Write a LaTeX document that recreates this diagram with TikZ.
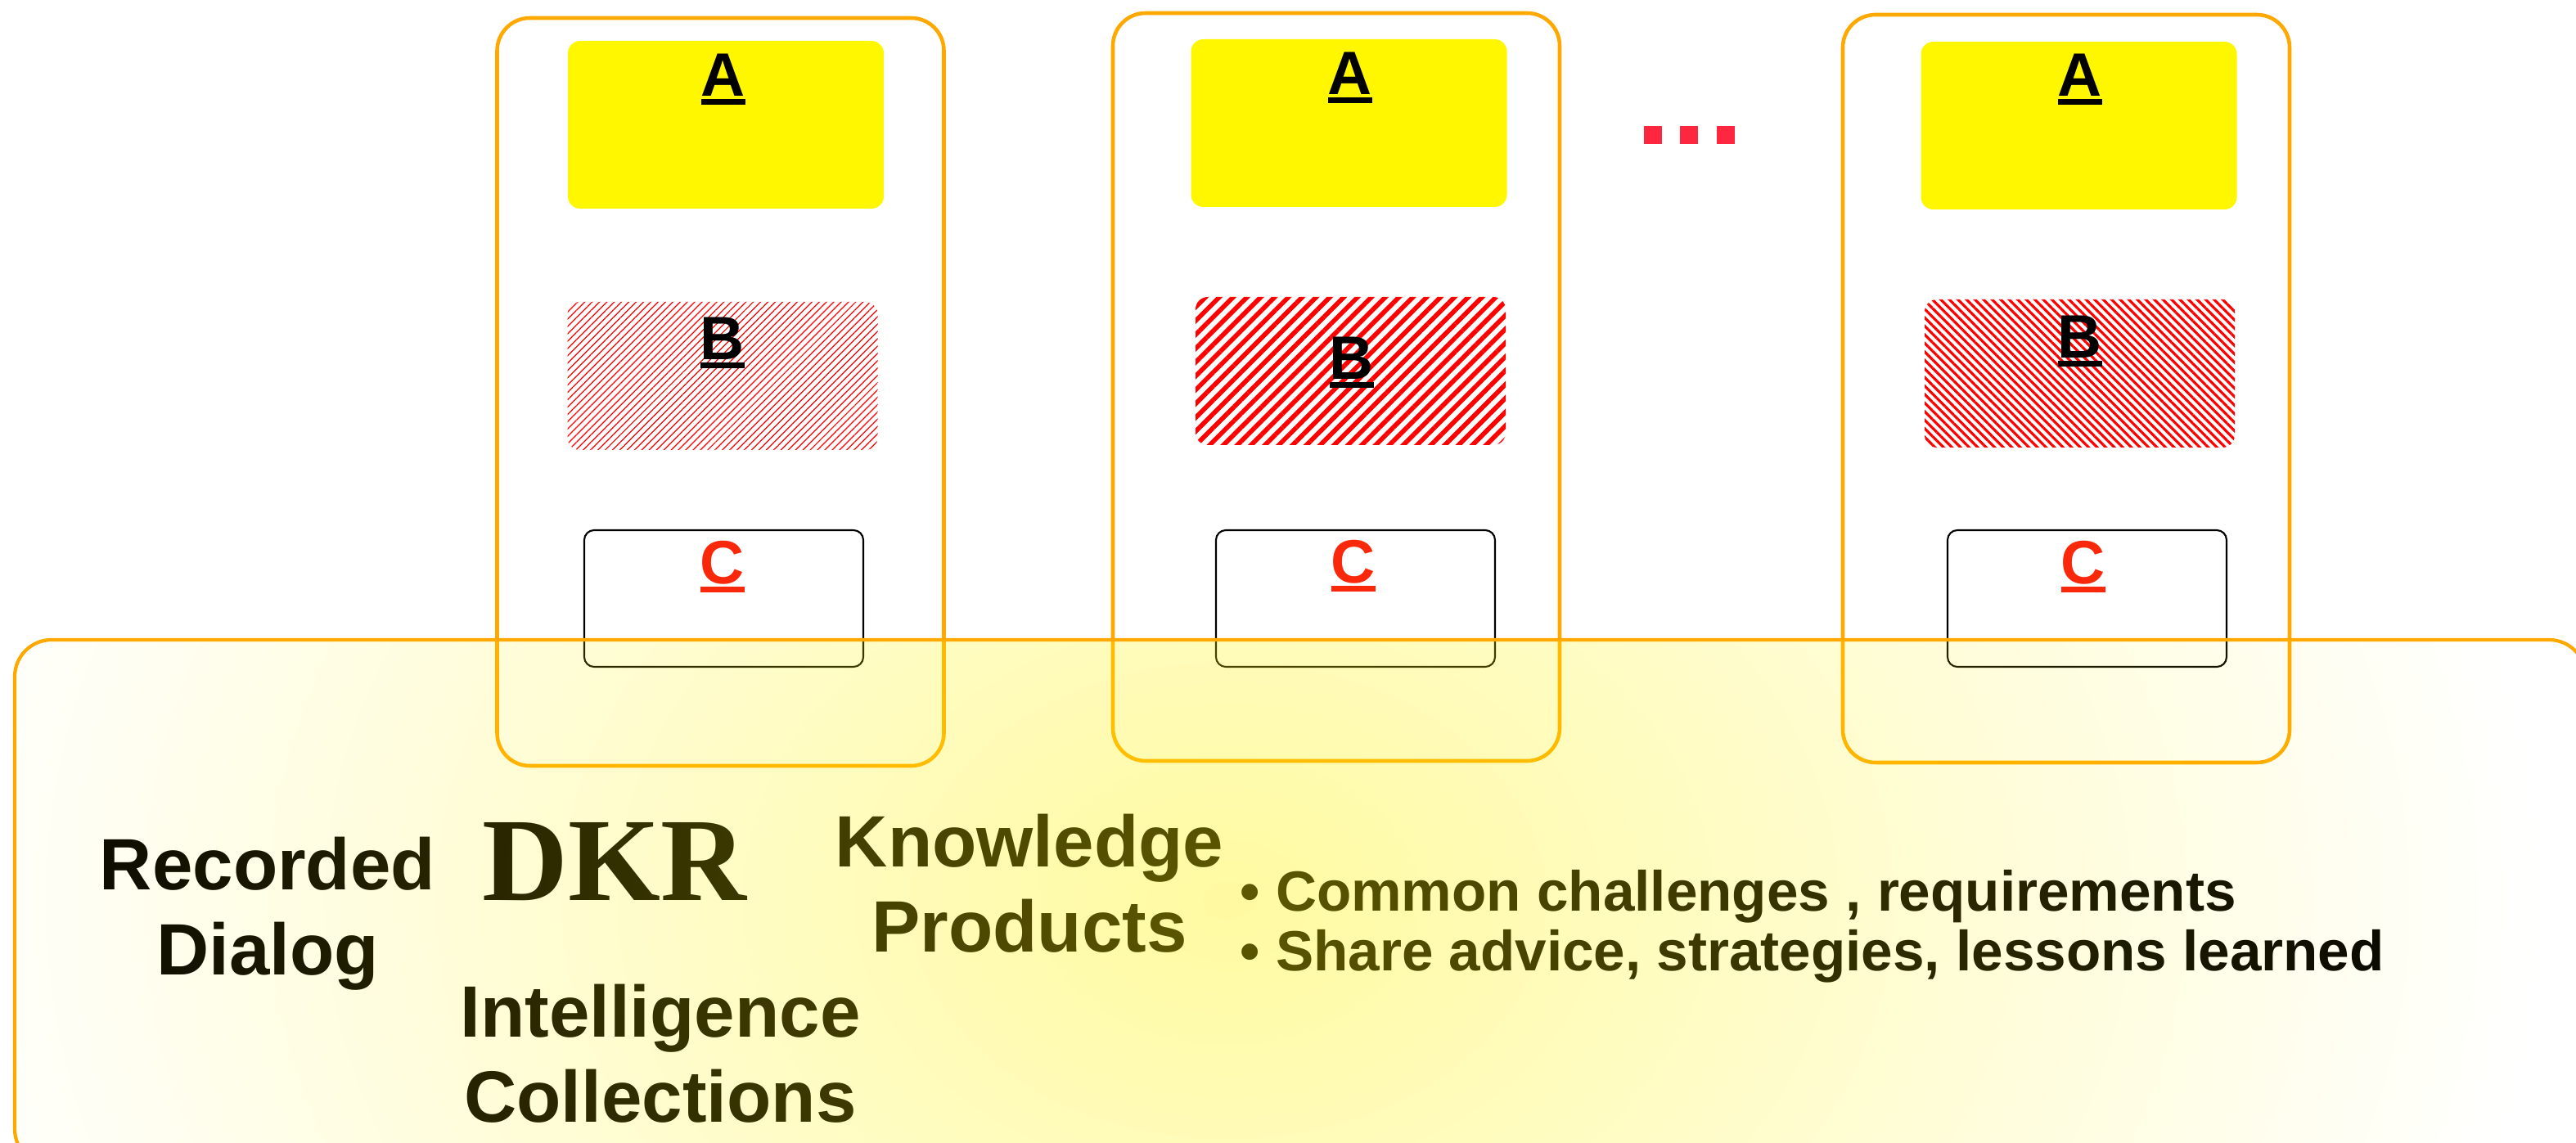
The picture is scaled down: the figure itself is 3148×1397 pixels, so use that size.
\documentclass[tikz,border=0pt]{standalone}
\usepackage{fontspec}
\setmainfont{Liberation Sans}
\newfontfamily\dkrfont{Liberation Serif}
\usetikzlibrary{patterns.meta,fadings}

\definecolor{boxorange}{RGB}{255,168,0}
\definecolor{ayellow}{RGB}{255,247,0}
\definecolor{dotred}{RGB}{255,38,64}
\definecolor{clabel}{RGB}{250,40,10}

% underline with a heavier rule
\newcommand{\ulbox}[1]{\setbox0\hbox{#1}\rlap{\rule[-0.13em]{\wd0}{0.09em}}\box0}

\tikzfading[name=dkrglow, inner color=transparent!63, outer color=transparent!100]

\tikzset{
  colbox/.style={draw=boxorange, line width=1.3pt, rounded corners=4mm,
    minimum width=54.6mm, minimum height=91.4mm, inner sep=0pt},
  abox/.style={fill=ayellow, rounded corners=1.5mm,
    minimum width=38.6mm, minimum height=20.5mm, inner sep=0pt},
  hatchbox/.style={rounded corners=1.5mm, pattern color=red,
    minimum width=37.9mm, minimum height=18.1mm, inner sep=0pt},
  cbox/.style={draw=black, line width=0.6pt, rounded corners=1.2mm,
    minimum width=34.1mm, minimum height=16.7mm, inner sep=0pt},
  lbl/.style={font=\fontsize{21.3}{24}\selectfont\bfseries, inner sep=0pt, anchor=base},
  bigtext/.style={font=\fontsize{25.3}{29.6}\selectfont\bfseries, align=center, inner sep=0pt},
  listtext/.style={font=\fontsize{19.7}{21}\selectfont\bfseries, align=left, inner sep=0pt}
}

\begin{document}
\begin{tikzpicture}[x=0.1mm, y=-0.1mm]
  \useasboundingbox (0,0) rectangle (3148,1397);

  % first column
  \node[colbox] (col1) at (880.5,479) {};
  \node[abox] (a1) at (887,152.5) {};
  \node[hatchbox, pattern={Lines[angle=45,distance=1.8pt,line width=0.35pt]}] (b1) at (883,459.5) {};
  \node[cbox] (c1) at (884.5,731.5) {};
  \node[lbl] (a1lbl) at (884,118) {\ulbox{A}};
  \node[lbl] (b1lbl) at (883,440) {\ulbox{B}};
  \node[lbl, text=clabel] (c1lbl) at (883,714) {\ulbox{C}};

  % second column
  \node[colbox] (col2) at (1633,473) {};
  \node[abox] (a2) at (1648.5,150.5) {};
  \node[hatchbox, pattern={Lines[angle=45,distance=3.4pt,line width=1.6pt]}] (b2) at (1650.5,453.5) {};
  \node[cbox] (c2) at (1656.5,731.5) {};
  \node[lbl] (a2lbl) at (1650,116) {\ulbox{A}};
  \node[lbl] (b2lbl) at (1652,464) {\ulbox{B}};
  \node[lbl, text=clabel] (c2lbl) at (1654,713) {\ulbox{C}};

  % last column
  \node[colbox] (col3) at (2525,475) {};
  \node[abox] (a3) at (2540.5,153.5) {};
  \node[hatchbox, pattern={Lines[angle=-45,distance=2.1pt,line width=0.9pt]}] (b3) at (2541.5,456.5) {};
  \node[cbox] (c3) at (2550.5,731.5) {};
  \node[lbl] (a3lbl) at (2542,118) {\ulbox{A}};
  \node[lbl] (b3lbl) at (2542,438) {\ulbox{B}};
  \node[lbl, text=clabel] (c3lbl) at (2546,714) {\ulbox{C}};

  \foreach \dx in {2009,2053,2098}
    \fill[dotred] (\dx,154) rectangle ++(22,22);

  % DKR panel texts (base = last line)
  \node[bigtext, anchor=base] (rec) at (327,1192) {Recorded\\Dialog};
  \node[font=\dkrfont\fontsize{41.3}{45}\selectfont\bfseries, inner sep=0pt, anchor=base] (dkr) at (751,1101) {DKR};
  \node[bigtext, anchor=base] (intel) at (807,1372) {Intelligence\\Collections};
  \node[bigtext, anchor=base] (know) at (1258,1164) {Knowledge\\Products};
  \node[listtext, anchor=base west] (list) at (1515,1187)
    {\textbullet{} Common challenges , requirements\\\textbullet{} Share advice, strategies, lessons learned};

  \begin{scope}
    \clip[rounded corners=4.5mm] (18,782) rectangle (3160,1425);
    \fill[yellow, path fading=dkrglow] (-100,-100) rectangle (3100,2300);
  \end{scope}
  \draw[boxorange, line width=1.2pt, rounded corners=4.5mm] (18,782) rectangle (3160,1425);
\end{tikzpicture}
\end{document}
